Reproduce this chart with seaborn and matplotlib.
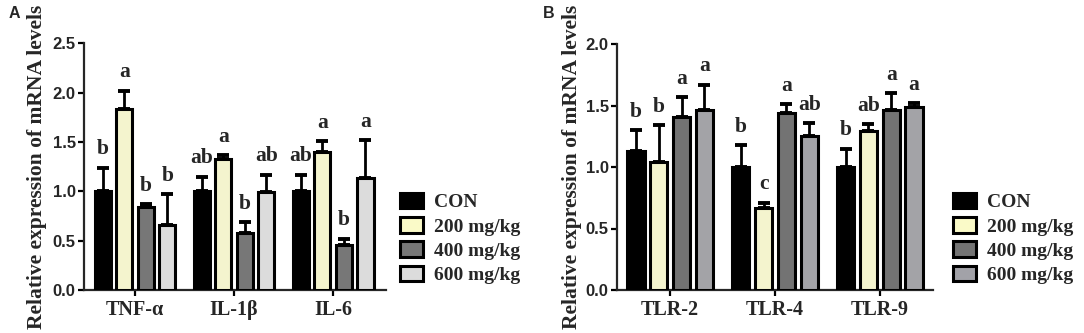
import numpy as np
import pandas as pd
import matplotlib
matplotlib.use("Agg")
import matplotlib.pyplot as plt
import seaborn as sns
from matplotlib.patches import Patch

# ---------------- data ----------------
groups = ["CON", "200 mg/kg", "400 mg/kg", "600 mg/kg"]

genes_a = ["TNF-α", "IL-1β", "IL-6"]
means_a = {
    "CON":       [1.00, 1.00, 1.00],
    "200 mg/kg": [1.83, 1.33, 1.40],
    "400 mg/kg": [0.84, 0.58, 0.46],
    "600 mg/kg": [0.66, 0.99, 1.14],
}
errs_a = {
    "CON":       [0.24, 0.15, 0.17],
    "200 mg/kg": [0.19, 0.04, 0.11],
    "400 mg/kg": [0.03, 0.11, 0.06],
    "600 mg/kg": [0.31, 0.18, 0.38],
}
letters_a = {
    "CON":       ["b", "ab", "ab"],
    "200 mg/kg": ["a", "a", "a"],
    "400 mg/kg": ["b", "b", "b"],
    "600 mg/kg": ["b", "ab", "a"],
}

genes_b = ["TLR-2", "TLR-4", "TLR-9"]
means_b = {
    "CON":       [1.13, 1.00, 1.00],
    "200 mg/kg": [1.04, 0.67, 1.29],
    "400 mg/kg": [1.41, 1.44, 1.46],
    "600 mg/kg": [1.46, 1.25, 1.49],
}
errs_b = {
    "CON":       [0.17, 0.18, 0.15],
    "200 mg/kg": [0.30, 0.04, 0.06],
    "400 mg/kg": [0.16, 0.07, 0.14],
    "600 mg/kg": [0.21, 0.11, 0.03],
}
letters_b = {
    "CON":       ["b", "b", "b"],
    "200 mg/kg": ["b", "c", "ab"],
    "400 mg/kg": ["a", "a", "a"],
    "600 mg/kg": ["a", "ab", "a"],
}

colors_a = {"CON": "#000000", "200 mg/kg": "#FAFAC8", "400 mg/kg": "#777777", "600 mg/kg": "#DCDCDC"}
colors_b = {"CON": "#000000", "200 mg/kg": "#FAFAC8", "400 mg/kg": "#737373", "600 mg/kg": "#A2A2A8"}

yticks_a = [0.0, 0.5, 1.0, 1.5, 2.0, 2.5]
yticks_b = [0.0, 0.5, 1.0, 1.5, 2.0]

ylabel = "Relative expression of mRNA levels"

# ---------------- style ----------------
sns.set_style("ticks")
plt.rcParams["font.family"] = ["Liberation Serif", "DejaVu Serif"]
plt.rcParams["font.weight"] = "bold"

fig = plt.figure(figsize=(10.84, 3.33), dpi=100)
W, H = 1084, 333

def fx(px):
    return px / W

def fy(py):
    return 1 - py / H

ax_a = fig.add_axes([fx(84), fy(290), fx(386 - 84), (290 - 43.3) / H])
ax_b = fig.add_axes([fx(617), fy(290), fx(933 - 617), (290 - 44) / H])

serif = ["Liberation Serif", "DejaVu Serif"]
sans = ["Liberation Sans", "DejaVu Sans"]


def make_panel(ax, genes, means, errs, letters, colors, yticks, xlim):
    rows = []
    for g in groups:
        for gene, v in zip(genes, means[g]):
            rows.append({"gene": gene, "group": g, "value": v})
    df = pd.DataFrame(rows)
    sns.barplot(data=df, x="gene", y="value", hue="group", order=genes,
                hue_order=groups, palette=colors, ax=ax, errorbar=None,
                width=0.87, gap=0.24, edgecolor="black", linewidth=2.2,
                legend=False, zorder=3)
    for gi, g in enumerate(groups):
        cont = ax.containers[gi]
        for k, bar in enumerate(cont):
            xc = bar.get_x() + bar.get_width() / 2
            h = bar.get_height()
            e = errs[g][k]
            ax.errorbar([xc], [h], yerr=[[0], [e]], fmt="none", ecolor="black",
                        elinewidth=2.0, capsize=4.5, capthick=2.8, zorder=2)
            ax.annotate(letters[g][k], xy=(xc, h + e), xytext=(0, 9.5),
                        textcoords="offset points", ha="center", va="baseline",
                        fontsize=15.5, fontweight="bold", family=serif)
    ax.set_ylim(0, yticks[-1])
    ax.set_yticks(yticks)
    ax.set_yticklabels([f"{t:.1f}" for t in yticks], family=sans,
                       fontsize=12, fontweight="bold")
    ax.set_xlim(*xlim)
    ax.set_xticks(range(len(genes)))
    ax.set_xticklabels(genes, family=serif, fontsize=14.5, fontweight="bold")
    ax.set_xlabel("")
    ax.set_ylabel("")
    sns.despine(ax=ax)
    for sp in ["left", "bottom"]:
        ax.spines[sp].set_linewidth(1.6)
    ax.tick_params(axis="both", direction="out", length=4.5, width=1.6,
                   color="black", pad=1.5)
    ax.tick_params(axis="x", pad=3)
    ax.set_facecolor("white")


make_panel(ax_a, genes_a, means_a, errs_a, letters_a, colors_a, yticks_a, (-0.515, 2.535))
make_panel(ax_b, genes_b, means_b, errs_b, letters_b, colors_b, yticks_b, (-0.507, 2.507))

# y labels
fig.text(fx(37), fy(167), ylabel, rotation=90, ha="center", va="center",
         fontsize=15.5, fontweight="bold", family=serif)
fig.text(fx(572), fy(167), ylabel, rotation=90, ha="center", va="center",
         fontsize=15.5, fontweight="bold", family=serif)

# panel letters
fig.text(fx(9), fy(13), "A", ha="left", va="center", fontsize=11.5,
         fontweight="bold", family=sans)
fig.text(fx(543), fy(13), "B", ha="left", va="center", fontsize=11.5,
         fontweight="bold", family=sans)

# legends
def add_legend(colors, x_px):
    handles = [Patch(facecolor=colors[g], edgecolor="black", linewidth=2.2, label=g)
               for g in groups]
    leg = fig.legend(handles=handles, loc="center left",
                     bbox_to_anchor=(fx(x_px), fy(238.5)),
                     bbox_transform=fig.transFigure, frameon=False,
                     prop={"family": serif, "weight": "bold", "size": 14},
                     handlelength=1.2, handleheight=0.85, handletextpad=0.55,
                     labelspacing=0.3, borderpad=0, borderaxespad=0)
    return leg

add_legend(colors_a, 400)
add_legend(colors_b, 953)

fig.savefig("out.png", dpi=100, facecolor="white")
